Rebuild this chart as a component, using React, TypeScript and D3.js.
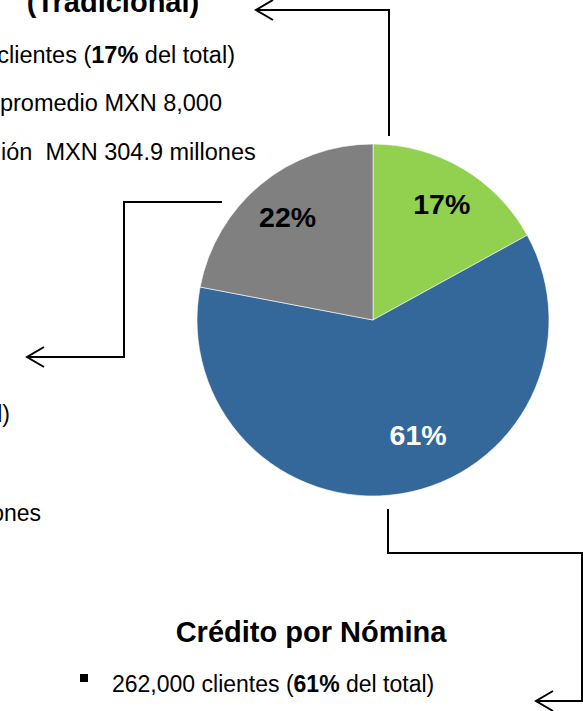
import React from "react";
import * as d3 from "d3";

const categories = ["Tradicional", "Crédito por Nómina", "Otro"];
const shares = [17, 61, 22];
const sliceColors = ["#92D050", "#35689A", "#808080"];
const labelColors = ["#000000", "#ffffff", "#000000"];
const labelNudgeDeg = [0, -12.4, 0];

const W = 583;
const H = 711;
const FONT = "'Liberation Sans', Arial, Helvetica, sans-serif";

export default function App() {
  const cx = 373;
  const cy = 320;
  const R = 176;
  const pie = d3
    .pie<number>()
    .sort(null)
    .value((d) => d)
    .startAngle(0)
    .endAngle(2 * Math.PI);
  const arcs = pie(shares);
  const arc = d3.arc<d3.PieArcDatum<number>>().innerRadius(0).outerRadius(R);
  const labelR = [135, 123.5, 134];

  const line = (pts: [number, number][]) => d3.line()(pts) || "";
  const arrowHead = (x: number, y: number) =>
    line([
      [x + 17, y - 10],
      [x, y],
      [x + 17, y + 10],
    ]);

  const reg = 23;
  const regTop = 23.5;
  const big = 29;

  return (
    <svg
      width={W}
      height={H}
      style={{ position: "absolute", left: 0, top: 0, background: "#fff" }}
      fontFamily={FONT}
    >
      <g transform={`translate(${cx},${cy})`}>
        {arcs.map((a, i) => (
          <path key={categories[i]} d={arc(a) || ""} fill={sliceColors[i]} stroke="#ffffff" strokeWidth={0.6} />
        ))}
        {arcs.map((a, i) => {
          const mid = (a.startAngle + a.endAngle) / 2 + (labelNudgeDeg[i] * Math.PI) / 180;
          const x = Math.sin(mid) * labelR[i];
          const y = -Math.cos(mid) * labelR[i];
          return (
            <text
              key={"l" + i}
              x={x}
              y={y}
              dy="0.35em"
              textAnchor="middle"
              fontWeight="bold"
              fontSize={28.5}
              fill={labelColors[i]}
            >
              {shares[i]}%
            </text>
          );
        })}
      </g>

      {/* connectors */}
      <g fill="none" stroke="#000" strokeWidth={2}>
        <path d={line([[389, 136], [389, 10], [256, 10]])} />
        <path d={arrowHead(256, 10)} />
        <path d={line([[222, 202], [124, 202], [124, 357], [27, 357]])} />
        <path d={arrowHead(27, 357)} />
        <path d={line([[388, 509], [388, 553], [582, 553], [582, 701], [536, 701]])} />
        <path d={arrowHead(536, 701)} />
      </g>

      {/* top-left block (Tradicional) */}
      <text x={113} y={12} textAnchor="middle" fontWeight="bold" fontSize={big}>
        (Tradicional)
      </text>
      <text x={235} y={63} textAnchor="end" fontSize={regTop}>
        clientes (<tspan fontWeight="bold">17%</tspan> del total)
      </text>
      <text x={222} y={111} textAnchor="end" fontSize={regTop}>
        promedio MXN 8,000
      </text>
      <text x={1} y={160} fontSize={regTop} style={{ whiteSpace: "pre" }}>
        {"ión  MXN 304.9 millones"}
      </text>

      {/* left block (partially visible) */}
      <text x={10} y={422} textAnchor="end" fontSize={reg}>
        l)
      </text>
      <text x={41} y={521} textAnchor="end" fontSize={reg}>
        ones
      </text>

      {/* bottom block (Nómina) */}
      <text x={311} y={642} textAnchor="middle" fontWeight="bold" fontSize={big}>
        {categories[1]}
      </text>
      <rect x={80} y={674} width={8} height={8} fill="#000" />
      <text x={112} y={692} fontSize={reg}>
        262,000 clientes (<tspan fontWeight="bold">{shares[1]}%</tspan> del total)
      </text>
    </svg>
  );
}
